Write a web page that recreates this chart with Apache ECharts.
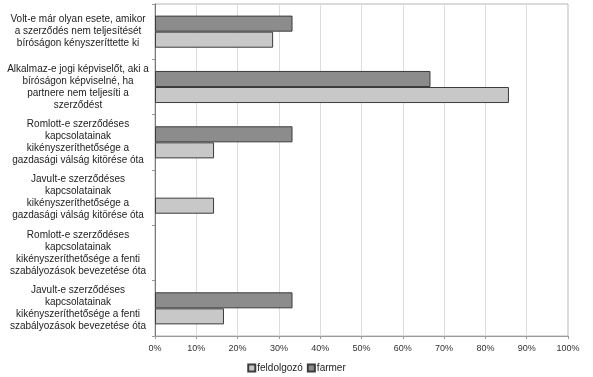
<!DOCTYPE html>
<html>
<head>
<meta charset="utf-8">
<script src="https://cdn.jsdelivr.net/npm/echarts@6/dist/echarts.min.js"></script>
<style>
  html, body { margin: 0; padding: 0; background: #fff; }
  #chart { width: 593px; height: 377px; }
</style>
</head>
<body>
<div id="chart"></div>
<script>
// kategóriák (felülről lefelé)
var categories = [
    "Volt-e már olyan esete, amikor\na szerződés nem teljesítését\nbíróságon kényszeríttette ki",
    "Alkalmaz-e jogi képviselőt, aki a\nbíróságon képviselné, ha\npartnere nem teljesíti a\nszerződést",
    "Romlott-e szerződéses\nkapcsolatainak\nkikényszeríthetősége a\ngazdasági válság kitörése óta",
    "Javult-e szerződéses\nkapcsolatainak\nkikényszeríthetősége a\ngazdasági válság kitörése óta",
    "Romlott-e szerződéses\nkapcsolatainak\nkikényszeríthetősége a fenti\nszabályozások bevezetése óta",
    "Javult-e szerződéses\nkapcsolatainak\nkikényszeríthetősége a fenti\nszabályozások bevezetése óta"
];
var farmer = [33.3, 66.7, 33.3, 0, 0, 33.3];
var feldolgozo = [28.6, 85.7, 14.3, 14.3, 0, 16.7];
var seriesNames = ["feldolgozó", "farmer"];

// a 0 értékű oszlopok nem látszanak
function noZero(arr) {
    return arr.map(function (v) { return v === 0 ? '-' : v; });
}

var chart = echarts.init(document.getElementById('chart'));
chart.setOption({
    animation: false,
    textStyle: { fontFamily: 'Liberation Sans, Arial, sans-serif' },
    grid: {
        left: 155, right: 25, top: 4, bottom: 41,
        show: true, borderColor: '#b4b4b4', borderWidth: 1
    },
    legend: {
        data: seriesNames,
        bottom: -1,
        left: 'center',
        icon: 'rect',
        itemWidth: 7, itemHeight: 7, itemGap: 4,
        textStyle: { fontSize: 10, color: '#222', padding: [0, 0, 0, -3] }
    },
    xAxis: {
        type: 'value',
        min: 0, max: 100, interval: 10,
        axisLine: { show: true, lineStyle: { color: '#9a9a9a' } },
        axisTick: { show: true, length: 3, lineStyle: { color: '#9a9a9a' } },
        axisLabel: { formatter: '{value}%', fontSize: 9, color: '#333', margin: 8 },
        splitLine: { show: true, lineStyle: { color: '#dcdcdc' } }
    },
    yAxis: {
        type: 'category',
        inverse: true,
        data: categories,
        axisLine: { show: true, lineStyle: { color: '#777' } },
        axisTick: { show: true, length: 3, lineStyle: { color: '#999' } },
        axisLabel: { fontSize: 10, lineHeight: 12, color: '#222', align: 'center', margin: 77 }
    },
    series: [
        {
            name: 'farmer', type: 'bar', data: noZero(farmer),
            barGap: '0%', barCategoryGap: '42%',
            itemStyle: { color: '#8c8c8c', borderColor: '#3c3c3c', borderWidth: 1 }
        },
        {
            name: 'feldolgozó', type: 'bar', data: noZero(feldolgozo),
            barGap: '0%', barCategoryGap: '42%',
            itemStyle: { color: '#c8c8c8', borderColor: '#3c3c3c', borderWidth: 1 }
        }
    ]
});
</script>
</body>
</html>
